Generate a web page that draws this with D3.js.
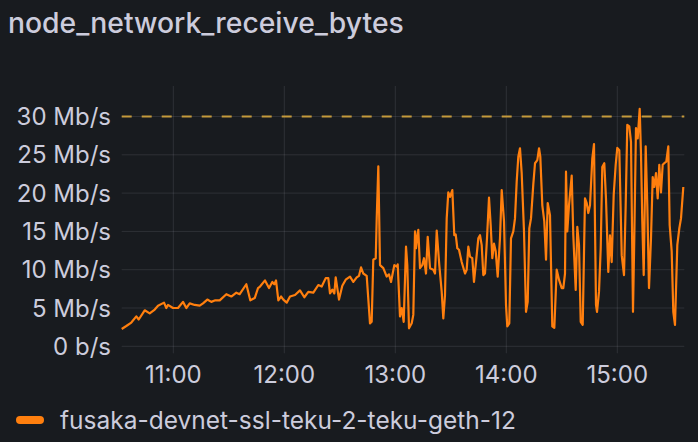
<!DOCTYPE html>
<html>
<head>
<meta charset="utf-8">
<script src="https://cdn.jsdelivr.net/npm/d3@7"></script>
<style>
  html, body { margin: 0; padding: 0; background: #181b1f; }
  svg { display: block; }
  text { font-family: Inter, "Noto Sans", sans-serif; fill: #ccccdc; }
</style>
</head>
<body>
<svg id="chart" width="698" height="442"></svg>
<script>
const title = "node_network_receive_bytes";
const seriesName = "fusaka-devnet-ssl-teku-2-teku-geth-12";
const threshold = 30;
const yTicks = [0, 5, 10, 15, 20, 25, 30];
const yTickLabels = ["0 b/s", "5 Mb/s", "10 Mb/s", "15 Mb/s", "20 Mb/s", "25 Mb/s", "30 Mb/s"];
const xTicks = ["11:00", "12:00", "13:00", "14:00", "15:00"];
const timeRange = ["10:32:06", "15:36:13"];

const times = [
"10:32:06","10:34:35","10:37:18","10:40:00","10:41:18","10:44:32","10:47:14","10:49:57","10:51:44","10:54:58",
"10:56:13","10:57:08","10:59:50","11:02:32","11:05:14","11:07:02","11:08:52","11:11:34","11:14:16","11:16:03",
"11:18:23","11:20:32","11:22:42","11:25:05","11:28:39","11:31:21","11:34:03","11:35:53","11:39:28","11:41:37",
"11:44:00","11:45:47","11:46:52","11:49:34","11:51:44","11:53:31","11:54:35","11:55:31","11:56:46","11:58:13",
"11:59:28","12:01:18","12:03:05","12:05:47","12:08:29","12:10:49","12:12:58","12:15:41","12:18:23","12:20:13",
"12:22:23","12:23:47","12:24:42","12:25:57","12:27:02","12:27:47","12:29:34","12:31:21","12:33:11","12:35:31",
"12:37:18","12:39:08","12:40:23","12:41:28","12:42:42","12:44:32","12:46:19","12:47:14","12:48:06","12:49:25",
"12:49:57","12:50:49","12:51:44","12:53:31","12:55:21","12:56:35","12:57:41","12:59:28","13:00:46","13:01:18",
"13:02:32","13:03:28","13:04:32","13:05:47","13:06:29","13:07:24","13:08:52","13:09:44","13:10:39","13:11:11",
"13:11:53","13:12:26","13:13:21","13:14:35","13:15:31","13:16:35","13:17:31","13:18:46","13:20:32","13:21:28",
"13:22:23","13:23:47","13:25:05","13:25:57","13:26:52","13:27:47","13:28:39","13:29:34","13:30:49","13:31:53",
"13:32:39","13:33:31","13:34:26","13:35:53","13:37:41","13:38:35","13:39:28","13:40:23","13:41:37","13:42:32",
"13:43:37","13:44:52","13:45:47","13:46:42","13:47:34","13:48:29","13:49:34","13:50:39","13:51:34","13:52:26",
"13:53:21","13:54:16","13:55:21","13:56:35","13:57:31","13:58:46","13:59:50","14:00:32","14:01:37","14:02:32",
"14:03:47","14:04:42","14:05:37","14:06:29","14:07:24","14:08:19","14:09:34","14:10:39","14:11:34","14:12:26",
"14:13:21","14:14:35","14:15:31","14:16:46","14:17:41","14:18:23","14:19:28","14:20:32","14:21:28","14:22:23",
"14:23:37","14:24:52","14:25:57","14:27:14","14:28:29","14:29:57","14:30:49","14:31:44","14:32:16","14:32:58",
"14:33:53","14:35:21","14:36:13","14:37:31","14:38:23","14:39:18","14:40:13","14:41:18","14:42:32","14:43:28",
"14:44:19","14:45:14","14:46:29","14:47:24","14:48:29","14:49:02","14:50:06","14:51:02","14:51:53","14:52:58",
"14:53:53","14:55:08","14:56:03","14:56:58","14:58:03","14:59:08","15:00:00","15:01:05","15:02:23","15:03:37",
"15:04:32","15:05:24","15:06:29","15:07:24","15:08:29","15:09:11","15:10:06","15:11:02","15:12:06","15:12:49",
"15:13:31","15:14:16","15:15:21","15:16:13","15:17:08","15:18:13","15:19:08","15:20:00","15:20:55","15:21:50",
"15:22:42","15:23:37","15:24:32","15:25:24","15:26:29","15:27:34","15:28:19","15:29:24","15:30:16","15:31:11",
"15:32:26","15:33:31","15:34:26","15:35:41"
];

const values = [
2.26,2.65,3.1,3.9,3.5,4.7,4.3,4.8,5.3,5.7,
5.0,5.4,5.0,5.0,5.8,5.0,5.6,5.4,5.3,5.6,
6.1,5.8,6.0,6.0,6.8,6.5,7.0,6.8,8.1,6.0,
6.3,7.6,7.8,8.6,7.6,8.4,8.1,8.6,6.0,6.5,
6.1,5.7,6.5,6.7,7.3,6.4,7.1,7.0,8.0,7.8,
8.9,8.9,6.9,7.4,6.9,9.0,6.1,7.9,8.7,9.1,
8.4,9.0,9.2,10.3,9.5,9.2,3.0,3.2,11.3,11.5,
16.7,23.5,10.6,10.2,9.1,9.4,8.4,10.6,10.4,10.7,
3.9,5.0,3.2,13.0,10.6,2.35,3.0,4.1,15.0,12.8,
14.3,15.2,10.2,10.6,11.5,9.5,14.3,10.2,10.0,9.5,
15.1,10.6,7.1,3.65,6.7,16.7,20.1,19.5,20.4,14.5,
14.6,12.8,12.6,11.0,9.5,10.0,13.0,11.7,11.5,8.4,
11.0,14.1,14.5,13.2,9.3,9.5,14.1,19.4,15.8,11.5,
13.4,12.4,9.1,14.1,20.4,16.3,5.4,2.6,3.0,14.1,
15.0,16.7,21.5,24.75,25.85,22.6,15.0,4.5,5.8,15.4,
16.7,21.1,23.9,24.3,25.85,24.75,18.4,16.3,11.3,18.7,
17.1,2.6,2.4,10.0,8.7,7.6,7.6,9.5,22.8,15.0,
18.4,22.3,14.5,7.35,15.6,13.2,3.2,2.8,19.3,18.7,
17.4,18.4,24.5,26.4,5.4,4.5,7.1,12.8,23.4,23.9,
19.3,9.7,14.5,11.0,19.75,23.7,25.9,25.6,11.9,9.3,
18.4,28.9,28.7,26.7,4.5,14.1,28.5,27.15,31.0,25.0,
16.3,9.3,26.1,18.4,7.6,14.1,22.1,20.8,22.6,19.3,
23.7,20.1,23.7,23.9,24.1,26.1,15.8,12.4,4.5,2.8,
13.2,15.4,16.7,20.8
];

const parse = d3.timeParse("%Y-%m-%d %H:%M:%S");
const day = "2025-06-01 ";
const data = times.map((t, i) => ({ t: parse(day + t), v: values[i] }));

const svg = d3.select("#chart");
const plotLeft = 121.7, plotRight = 684.3, plotTop = 86, plotBottom = 346.3;

const x = d3.scaleTime()
  .domain([parse(day + timeRange[0]), parse(day + timeRange[1])])
  .range([plotLeft, plotRight]);
const y = d3.scaleLinear().domain([0, 30]).range([plotBottom, 116.5]);

// title
svg.append("text").attr("x", 8).attr("y", 33)
  .attr("font-size", 28.3).attr("font-weight", 500).text(title);

// horizontal grid
svg.append("g").selectAll("line").data(yTicks).join("line")
  .attr("x1", plotLeft).attr("x2", plotRight)
  .attr("y1", d => y(d)).attr("y2", d => y(d))
  .attr("stroke", "rgba(204,204,220,0.12)").attr("stroke-width", 1);

// vertical grid
const xTickDates = xTicks.map(s => parse(day + s + ":00"));
svg.append("g").selectAll("line").data(xTickDates).join("line")
  .attr("x1", d => x(d)).attr("x2", d => x(d))
  .attr("y1", plotTop).attr("y2", plotBottom + 7)
  .attr("stroke", "rgba(204,204,220,0.12)").attr("stroke-width", 1);

// y labels
svg.append("g").selectAll("text").data(yTicks).join("text")
  .attr("x", 111).attr("y", d => y(d)).attr("dy", "0.36em")
  .attr("text-anchor", "end").attr("font-size", 24)
  .text((d, i) => yTickLabels[i]);

// x labels
svg.append("g").selectAll("text").data(xTickDates).join("text")
  .attr("x", d => x(d)).attr("y", 382.5)
  .attr("text-anchor", "middle").attr("font-size", 24)
  .text((d, i) => xTicks[i]);

// threshold
svg.append("line")
  .attr("x1", plotLeft).attr("x2", plotRight)
  .attr("y1", y(threshold)).attr("y2", y(threshold))
  .attr("stroke", "#c49a3c").attr("stroke-width", 2)
  .attr("stroke-dasharray", "10,10");

// series
const line = d3.line().x(d => x(d.t)).y(d => y(d.v)).curve(d3.curveLinear);
svg.append("path").datum(data)
  .attr("d", line)
  .attr("fill", "none")
  .attr("stroke", "#ff7f0e")
  .attr("stroke-width", 2.2)
  .attr("stroke-linejoin", "round");

// legend
svg.append("rect").attr("x", 16).attr("y", 416).attr("width", 28).attr("height", 8)
  .attr("rx", 4).attr("fill", "#ff7f0e");
svg.append("text").attr("x", 60).attr("y", 429.3)
  .attr("font-size", 24.5).text(seriesName);
</script>
</body>
</html>
